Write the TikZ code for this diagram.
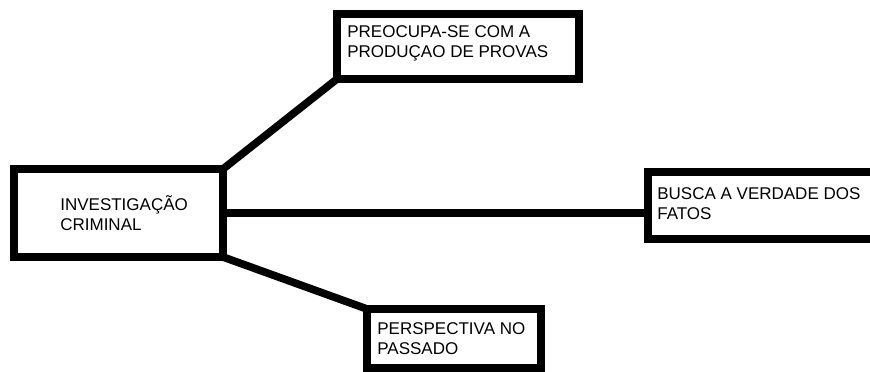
\documentclass[tikz,border=0pt]{standalone}
\usepackage{fontspec}
\setmainfont{Liberation Sans}
\usetikzlibrary{positioning}

\begin{document}
\begin{tikzpicture}[x=0.6pt, y=-0.6pt,
		caixa/.style={draw, rectangle, line width=4.6pt, inner sep=0pt, outer sep=0pt},
		rotulo/.style={anchor=base west, inner sep=0pt, align=left, font=\fontsize{10.2}{12.3}\selectfont},
		ligacao/.style={line width=4.6pt}]
	%%%%% START %%%%%
	
	\useasboundingbox (0,0) rectangle (870,372);
	\clip (0,0) rectangle (870,372);
	
	\node[caixa, minimum width=125.4pt, minimum height=52.8pt] (inv) at (118.5,213) {};
	\node[caixa, minimum width=145.2pt, minimum height=39pt] (prova) at (458,46.5) {};
	\node[caixa, minimum width=139.2pt, minimum height=40.2pt] (verdade) at (764,205.5) {};
	\node[caixa, minimum width=104.4pt, minimum height=35.4pt] (passado) at (454,338.5) {};
	
	% base = baseline of the second line
	\node[rotulo] (tinv) at ([shift={(46,61.5)}]inv.north west) {INVESTIGAÇÃO\\CRIMINAL};
	\node[rotulo] (tprova) at ([shift={(10,43.5)}]prova.north west) {PREOCUPA-SE COM A\\PRODUÇAO DE PROVAS};
	\node[rotulo] (tverdade) at ([shift={(9,47.5)}]verdade.north west) {BUSCA A VERDADE DOS\\FATOS};
	\node[rotulo] (tpassado) at ([shift={(10,45.5)}]passado.north west) {PERSPECTIVA NO\\PASSADO};
	
	\draw[ligacao] (inv.north east) -- (prova.south west);
	\draw[ligacao] (inv.east) -- (inv.east -| verdade.west);
	\draw[ligacao] (inv.south east) -- (passado.north west);
	
	%%%%% END %%%%%
\end{tikzpicture}
\end{document}
